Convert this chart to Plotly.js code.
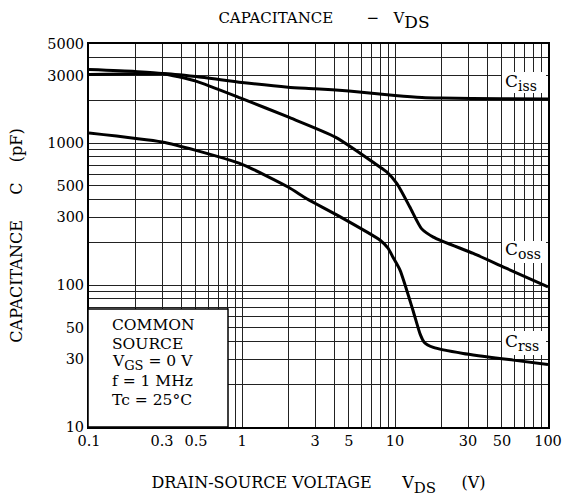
<!DOCTYPE html>
<html>
<head>
<meta charset="utf-8">
<script src="https://cdn.plot.ly/plotly-3.0.1.min.js"></script>
<style>html,body{margin:0;padding:0;background:#fff;}#chart{width:567px;height:497px;}</style>
</head>
<body>
<div id="chart"></div>
<script>
// ---- data ----
const vdsCiss = [0.1, 0.2, 0.3, 0.5, 1, 2, 3, 5, 10, 15, 20, 50, 100];
const ciss    = [3050, 3080, 3100, 2950, 2680, 2480, 2420, 2330, 2170, 2100, 2080, 2060, 2050];

const vdsCoss = [0.1, 0.2, 0.3, 0.5, 1, 2, 4.1, 8.2, 8.83, 10.3, 12.5, 14.9, 17.8, 32.5, 53.7, 100];
const coss    = [3300, 3200, 3100, 2740, 2060, 1530, 1100, 665, 627, 519, 355, 250, 218, 167, 131, 97];

const vdsCrss = [0.1, 0.3, 0.5, 1, 2, 2.65, 4.1, 8.0, 9.0, 9.7, 10.8, 13.1, 14.6, 15.5, 17.8, 27.9, 59.3, 100];
const crss    = [1180, 1020, 890, 710, 491, 406, 315, 207, 182, 157, 127, 66.5, 45.1, 39.6, 36.4, 33.0, 29.6, 27.6];

const xLabelVals = [0.1, 0.3, 0.5, 1, 3, 5, 10, 30, 50, 100];
const xLabels    = ['0.1', '0.3', '0.5', '1', '3', '5', '10', '30', '50', '100'];
const xGrid = [0.1,0.2,0.3,0.4,0.5,0.6,0.7,0.8,0.9,1,2,3,4,5,6,7,8,9,10,20,30,40,50,60,70,80,90,100];
const yLabelVals = [10, 30, 50, 100, 300, 500, 1000, 3000, 5000];
const yLabels    = ['10', '30', '50', '100', '300', '500', '1000', '3000', '5000'];
const yGrid = [10,20,30,40,50,60,70,80,90,100,200,300,400,500,600,700,800,900,1000,2000,3000,4000,5000];

const seriesNames = ['C', 'C', 'C'];
const seriesSubs  = ['iss', 'oss', 'rss'];

// ---- layout helpers ----
const FONT = 'DejaVu Serif, Liberation Serif, serif';
const W = 567, H = 497;
const L = 89, R = 19, T = 44, B = 70;
const pw = W - L - R, ph = H - T - B;
const px = v => (v - L) / pw;          // pixel x -> paper
const py = v => (H - B - v) / ph;      // pixel y -> paper
const NB = n => '\u00A0'.repeat(n);
const sub = (t, size) => '<span style="baseline-shift:-0.3em;font-size:' + size + 'px">' + t + '</span>';

const conditionLines = ['COMMON', 'SOURCE', 'V' + sub('GS', 13) + ' = 0 V', 'f = 1 MHz', 'Tc = 25°C'];

const lineStyle = {color: '#000', width: 3, shape: 'spline', smoothing: 0.6};
const traces = [
  {x: vdsCiss, y: ciss, name: seriesNames[0] + seriesSubs[0], mode: 'lines', line: lineStyle},
  {x: vdsCoss, y: coss, name: seriesNames[1] + seriesSubs[1], mode: 'lines', line: lineStyle},
  {x: vdsCrss, y: crss, name: seriesNames[2] + seriesSubs[2], mode: 'lines', line: lineStyle}
];

const white = (x0, x1, y0, y1, extra) => Object.assign({
  type: 'rect', xref: 'paper', yref: 'paper', layer: 'above',
  x0: px(x0), x1: px(x1), y0: py(y1), y1: py(y0),
  fillcolor: '#fff', line: {width: 0}
}, extra || {});

const shapes = [
  white(502, 546, 72, 93),
  white(502, 546, 241, 263),
  white(502, 546, 331, 355),
  white(88, 228, 309, 427, {line: {color: '#000', width: 1.5}})
];

const labelAnn = (i, xpx, ypx) => ({
  xref: 'paper', yref: 'paper', x: px(xpx), y: py(ypx), xanchor: 'left', yanchor: 'middle',
  text: seriesNames[i] + sub(seriesSubs[i], 14),
  showarrow: false, font: {family: FONT, size: 17, color: '#000'}
});

const condY = [325, 343.5, 362, 381, 400];
const annotations = [
  labelAnn(0, 503, 82),
  labelAnn(1, 503, 251),
  labelAnn(2, 503, 342)
].concat(conditionLines.map((t, i) => ({
  xref: 'paper', yref: 'paper', x: px(111), y: py(condY[i]), xanchor: 'left', yanchor: 'middle', align: 'left',
  text: t, showarrow: false, borderpad: 0, font: {family: FONT, size: 15.5, color: '#000'}
})));

const axisCommon = {
  type: 'log', showline: true, mirror: true, linecolor: '#000', linewidth: 2,
  showgrid: true, gridcolor: '#222', gridwidth: 1, zeroline: false, ticks: '',
  tickmode: 'array', tickfont: {family: FONT, size: 14.5, color: '#000'}
};

const layout = {
  width: W, height: H,
  margin: {l: L, r: R, t: T, b: B},
  paper_bgcolor: '#fff', plot_bgcolor: '#fff',
  showlegend: false,
  title: {text: 'CAPACITANCE' + NB(7) + '−' + NB(3) + 'V' + sub('DS', 17),
          font: {family: FONT, size: 15, color: '#000'},
          x: 324 / W, xanchor: 'center', xref: 'container', y: 1 - 18 / H, yanchor: 'middle', yref: 'container'},
  xaxis: Object.assign({}, axisCommon, {
    range: [-1, 2], tickvals: xLabelVals, ticktext: xLabels,
    minor: {tickmode: 'array', tickvals: xGrid, showgrid: true, gridcolor: '#222', gridwidth: 1, ticks: ''},
    title: {text: 'DRAIN-SOURCE' + NB(1) + 'VOLTAGE' + NB(6) + 'V' + sub('DS', 15) + NB(5) + '(V)',
            font: {family: FONT, size: 16, color: '#000'}, standoff: 29}
  }),
  yaxis: Object.assign({}, axisCommon, {
    range: [1, Math.log10(5000)], tickvals: yLabelVals, ticktext: yLabels,
    minor: {tickmode: 'array', tickvals: yGrid, showgrid: true, gridcolor: '#222', gridwidth: 1, ticks: ''},
    title: {text: 'CAPACITANCE' + NB(5) + 'C' + NB(4) + '(pF)', font: {family: FONT, size: 16, color: '#000'}, standoff: 21}
  }),
  shapes: shapes,
  annotations: annotations
};

Plotly.newPlot('chart', traces, layout, {displayModeBar: false, staticPlot: true});
</script>
</body>
</html>
